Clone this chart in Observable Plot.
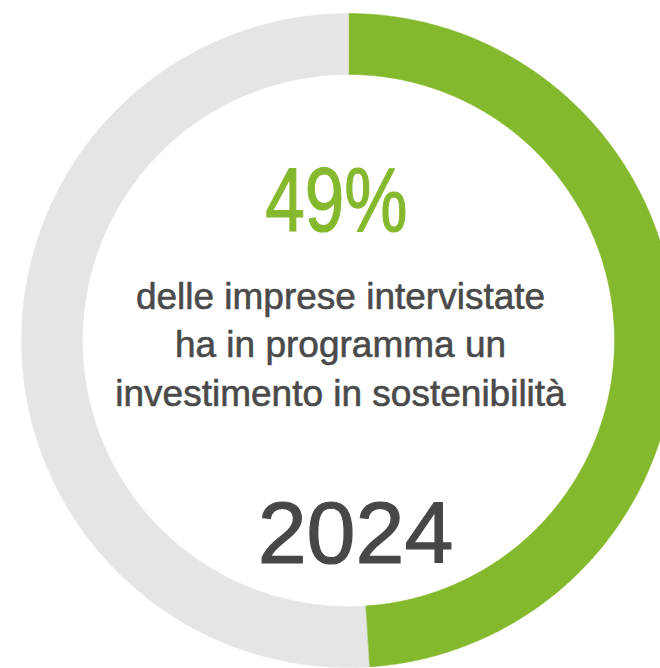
<!DOCTYPE html>
<html>
<head>
<meta charset="utf-8">
<script src="https://cdn.jsdelivr.net/npm/d3@7"></script>
<script src="https://cdn.jsdelivr.net/npm/@observablehq/plot@0.6"></script>
<style>
  html, body { margin: 0; padding: 0; background: #ffffff; }
  #chart svg { display: block; }
</style>
</head>
<body>
<div id="chart"></div>
<script>
// ---- data ----
const segments = ["Investimento in programma", "Altro"];
const shares = [49, 51];
const segmentColors = ["#84b82d", "#e5e5e5"];
const headline = "49%";
const descriptionLines = [
  "delle imprese intervistate",
  "ha in programma un",
  "investimento in sostenibilità"
];
const yearLabel = "2024";

// ---- layout ----
const W = 660, H = 668;
const cx = 348, cy = 340;
const outerR = 327, innerR = 266;
const headlineX = 336;

// Build ring polygons from the shares via d3.pie
const pie = d3.pie().sort(null).value(d => d.value).startAngle(0).endAngle(2 * Math.PI);
const arcs = pie(segments.map((s, i) => ({segment: s, value: shares[i], color: segmentColors[i]})));

const polyPoints = [];
for (const a of arcs) {
  const n = Math.max(8, Math.ceil((a.endAngle - a.startAngle) / 0.01));
  const outer = [], inner = [];
  for (let k = 0; k <= n; k++) {
    const t = a.startAngle + (a.endAngle - a.startAngle) * k / n;
    outer.push({segment: a.data.segment, color: a.data.color, x: cx + outerR * Math.sin(t), y: cy - outerR * Math.cos(t)});
    inner.push({segment: a.data.segment, color: a.data.color, x: cx + innerR * Math.sin(t), y: cy - innerR * Math.cos(t)});
  }
  polyPoints.push(...outer, ...inner.reverse());
}

const chart = Plot.plot({
  width: W,
  height: H,
  margin: 0,
  x: {domain: [0, W], range: [0, W], axis: null},
  y: {domain: [0, H], range: [0, H], axis: null},
  color: {type: "identity"},
  marks: [
    Plot.line(polyPoints, {
      x: "x", y: "y", z: "segment",
      fill: "color", stroke: "color", strokeWidth: 0.5,
      curve: "linear-closed"
    }),
    Plot.text([headline], {
      x: headlineX, y: 230, text: d => d,
      fill: "#84b82d",
      stroke: "#84b82d", strokeWidth: 1.2,
      fontSize: 90,
      fontFamily: "'Liberation Sans', Arial, sans-serif",
      textAnchor: "middle",
      lineAnchor: "bottom"
    }),
    Plot.text([descriptionLines.join("\n")], {
      x: 340, y: 405, text: d => d,
      fill: "#4a4a4a",
      stroke: "#4a4a4a", strokeWidth: 0.6,
      fontSize: 37,
      lineHeight: 1.31,
      fontFamily: "'Liberation Sans', Arial, sans-serif",
      textAnchor: "middle",
      lineAnchor: "bottom"
    }),
    Plot.text([yearLabel], {
      x: 355, y: 562, text: d => d,
      fill: "#474747",
      stroke: "#474747", strokeWidth: 1.2,
      fontSize: 88,
      fontFamily: "'Liberation Sans', Arial, sans-serif",
      textAnchor: "middle",
      lineAnchor: "bottom"
    })
  ]
});

// condense the headline horizontally (reference uses a narrower face)
const textGroups = chart.querySelectorAll('g[aria-label="text"]');
if (textGroups.length) {
  const g = textGroups[0];
  const wrap = document.createElementNS("http://www.w3.org/2000/svg", "g");
  wrap.setAttribute("transform", `translate(${headlineX},0) scale(0.79,1) translate(${-headlineX},0)`);
  g.parentNode.insertBefore(wrap, g);
  wrap.appendChild(g);
}

document.getElementById("chart").appendChild(chart);
</script>
</body>
</html>
